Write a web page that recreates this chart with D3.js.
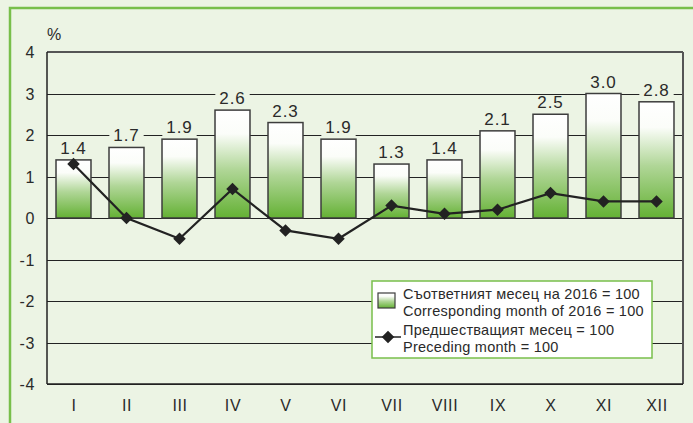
<!DOCTYPE html>
<html>
<head>
<meta charset="utf-8">
<style>
    body { margin: 0; background: #ecf4e4; }
    svg { display: block; font-family: "Liberation Sans", Arial, sans-serif; }
    .grid line { stroke: #222; stroke-width: 1; }
    .y.axis text, .x.axis text { font-size: 16px; fill: #2a2a2a; letter-spacing: 0.6px; }
    .y.axis .domain, .x.axis .domain, .y.axis line, .x.axis line { display: none; }
    .val { font-size: 17px; fill: #2a2a2a; letter-spacing: 0.9px; }
    .leg { font-size: 14.5px; fill: #2a2a2a; letter-spacing: 0.25px; }
</style>
<title>Inflation by month</title>
</head>
<body>
<svg width="693" height="423"></svg>

<script src="https://cdnjs.cloudflare.com/ajax/libs/d3/7.8.5/d3.min.js"></script>
<script>
    let months = ["I", "II", "III", "IV", "V", "VI", "VII", "VIII", "IX", "X", "XI", "XII"]
    let corresponding = [1.4, 1.7, 1.9, 2.6, 2.3, 1.9, 1.3, 1.4, 2.1, 2.5, 3.0, 2.8]
    let preceding = [1.3, 0.0, -0.5, 0.7, -0.3, -0.5, 0.3, 0.1, 0.2, 0.6, 0.4, 0.4]
    let yTicks = [4, 3, 2, 1, 0, -1, -2, -3, -4]

    let bg = "#ecf4e4"
    let margin = { left: 47, right: 10, top: 52, bottom: 39 }
    let width = 693, height = 423

    let svg = d3.select("svg")

    // outer green frame
    svg.append("rect")
        .attr("x", 10).attr("y", 8)
        .attr("width", 700).attr("height", 430)
        .attr("fill", bg)
        .attr("stroke", "#78bf4b")
        .attr("stroke-width", 2.5)

    let defs = svg.append("defs")
    let grad = defs.append("linearGradient")
        .attr("id", "barGrad")
        .attr("x1", 0).attr("y1", 0).attr("x2", 0).attr("y2", 1)
    grad.append("stop").attr("offset", "0%").attr("stop-color", "#ffffff")
    grad.append("stop").attr("offset", "22%").attr("stop-color", "#fbfdf9")
    grad.append("stop").attr("offset", "55%").attr("stop-color", "#b0d697")
    grad.append("stop").attr("offset", "100%").attr("stop-color", "#64b134")

    let x = d3.scaleBand()
        .domain(months)
        .range([margin.left, width - margin.right])
        .paddingInner(0.34)
        .paddingOuter(0.17)

    let xCenter = d3.scalePoint()
        .domain(months)
        .range([margin.left, width - margin.right])
        .padding(0.5)

    let y = d3.scaleLinear()
        .domain([-4, 4])
        .range([384, margin.top])

    // gridlines
    svg.append("g")
        .attr("class", "grid")
        .selectAll("line")
        .data(yTicks)
        .join("line")
        .attr("x1", margin.left)
        .attr("x2", width - margin.right)
        .attr("y1", d => Math.round(y(d)) + 0.5)
        .attr("y2", d => Math.round(y(d)) + 0.5)

    // plot frame
    svg.append("line")
        .attr("x1", margin.left).attr("x2", width - margin.right)
        .attr("y1", y(4)).attr("y2", y(4))
        .attr("stroke", "#555").attr("stroke-width", 2)
    svg.append("line")
        .attr("x1", width - margin.right).attr("x2", width - margin.right)
        .attr("y1", y(4)).attr("y2", y(-4))
        .attr("stroke", "#555").attr("stroke-width", 2)
    svg.append("line")
        .attr("x1", margin.left).attr("x2", margin.left)
        .attr("y1", y(4)).attr("y2", y(-4))
        .attr("stroke", "#222").attr("stroke-width", 1.5)
    svg.append("line")
        .attr("x1", margin.left).attr("x2", width - margin.right)
        .attr("y1", y(-4)).attr("y2", y(-4))
        .attr("stroke", "#222").attr("stroke-width", 1.5)

    // axes
    svg.append("g")
        .attr("class", "y axis")
        .attr("transform", `translate(${margin.left},0)`)
        .call(d3.axisLeft(y).tickValues(yTicks).tickSize(0).tickPadding(12).tickFormat(d => String(d)))
        .selectAll("text").attr("dy", "0.36em")

    svg.append("g")
        .attr("class", "x axis")
        .attr("transform", `translate(0,${y(-4)})`)
        .call(d3.axisBottom(xCenter).tickSize(0).tickPadding(16))

    svg.append("text")
        .attr("x", 47).attr("y", 40)
        .attr("font-size", 16).attr("fill", "#2a2a2a")
        .text("%")

    // bars
    svg.append("g")
        .selectAll("rect")
        .data(corresponding)
        .join("rect")
        .attr("x", (d, i) => x(months[i]))
        .attr("y", d => y(d))
        .attr("width", x.bandwidth())
        .attr("height", d => y(0) - y(d))
        .attr("fill", "url(#barGrad)")
        .attr("stroke", "#3d3d3d")
        .attr("stroke-width", 1.5)

    // value labels with background mask
    let labels = svg.append("g")
    corresponding.forEach((d, i) => {
        let t = labels.append("text")
            .attr("class", "val")
            .attr("x", xCenter(months[i]))
            .attr("y", y(d) - 6)
            .attr("text-anchor", "middle")
            .text(d.toFixed(1))
        let b = t.node().getBBox()
        labels.insert("rect", "text")
            .attr("x", b.x - 4).attr("y", b.y + 2)
            .attr("width", b.width + 8).attr("height", b.height - 3)
            .attr("fill", bg)
    })

    // line series
    let line = d3.line()
        .x((d, i) => xCenter(months[i]))
        .y(d => y(d))

    svg.append("path")
        .datum(preceding)
        .attr("d", line)
        .attr("fill", "none")
        .attr("stroke", "#222")
        .attr("stroke-width", 2.2)

    let diamond = d3.symbol().type(d3.symbolDiamond2).size(100)

    svg.append("g")
        .selectAll("path")
        .data(preceding)
        .join("path")
        .attr("transform", (d, i) => `translate(${xCenter(months[i])},${y(d)})`)
        .attr("d", diamond)
        .attr("fill", "#222")

    // legend
    let leg = svg.append("g")
    leg.append("rect")
        .attr("x", 372).attr("y", 281)
        .attr("width", 280).attr("height", 77)
        .attr("fill", "#ffffff")
        .attr("stroke", "#78bf4b")
        .attr("stroke-width", 1.5)

    leg.append("rect")
        .attr("x", 378).attr("y", 293)
        .attr("width", 17).attr("height", 15)
        .attr("fill", "url(#barGrad)")
        .attr("stroke", "#3d3d3d")
        .attr("stroke-width", 1.2)

    leg.append("line")
        .attr("x1", 375).attr("x2", 401)
        .attr("y1", 337).attr("y2", 337)
        .attr("stroke", "#222").attr("stroke-width", 1.5)
    leg.append("path")
        .attr("transform", "translate(388,337)")
        .attr("d", diamond)
        .attr("fill", "#222")

    let legLines = [
        ["Съответният месец на 2016 = 100", 299],
        ["Corresponding month of 2016 = 100", 316],
        ["Предшестващият месец = 100", 335],
        ["Preceding month = 100", 352]
    ]
    leg.selectAll("text")
        .data(legLines)
        .join("text")
        .attr("class", "leg")
        .attr("x", 403)
        .attr("y", d => d[1])
        .text(d => d[0])
</script>
</body>
</html>
